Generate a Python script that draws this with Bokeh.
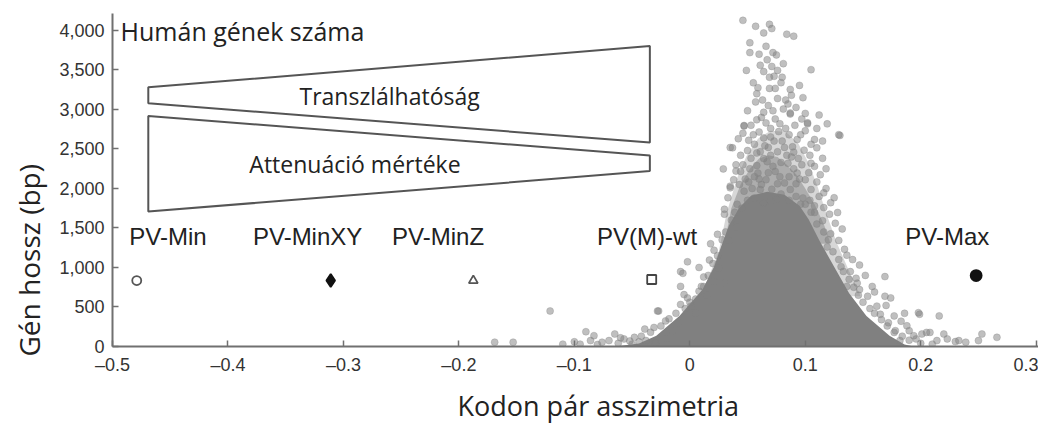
from bokeh.plotting import figure
from bokeh.models import (Range1d, FixedTicker, NumeralTickFormatter, Label,
                          ColumnDataSource, Title)
from bokeh.embed import file_html
from bokeh.resources import INLINE

# ---------------- data ----------------
x_ticks = [-0.5, -0.4, -0.3, -0.2, -0.1, 0.0, 0.1, 0.2, 0.3]
x_tick_labels = ["\u20130.5", "\u20130.4", "\u20130.3", "\u20130.2", "\u20130.1", "0", "0.1", "0.2", "0.3"]
y_ticks = [0, 500, 1000, 1500, 2000, 2500, 3000, 3500, 4000]

# dense core of the human gene cloud (solid region outline)
core_cpb = [-0.065, -0.044, -0.029, -0.009, 0.011, 0.021, 0.027, 0.034, 0.043, 0.053,
            0.067, 0.082, 0.095, 0.103, 0.112, 0.125, 0.138, 0.153, 0.173, 0.186, 0.194]
core_len = [0, 37, 137, 387, 723, 1010, 1259, 1534, 1758, 1908,
            1958, 1920, 1783, 1609, 1347, 1010, 673, 387, 137, 25, 0]

# dense-but-not-solid upper part of the cloud
upper_cpb = [0.030, 0.036, 0.044, 0.052, 0.060, 0.068, 0.076, 0.084, 0.092, 0.100,
             0.108, 0.116, 0.122]
upper_len = [1300, 1750, 2050, 2250, 2380, 2420, 2400, 2300, 2180, 2000,
             1800, 1550, 1300]

# medium-density halo of the cloud
halo_cpb = [0.0095, 0.025, 0.032, 0.041, 0.049, 0.059, 0.070, 0.083, 0.094, 0.103,
            0.111, 0.118, 0.127, 0.140, 0.148]
halo_len = [636, 1197, 1696, 2132, 2407, 2631, 2731, 2718, 2569, 2319,
            2008, 1696, 1322, 885, 636]

# individually visible genes (codon pair bias, gene length in bp)
gene_cpb = [
    0.046, 0.057, 0.069, 0.071, 0.064, 0.084, 0.090, 0.052, 0.052, 0.060, 0.072, 0.075,
    0.067, 0.071, 0.076, 0.049, 0.105, 0.069, 0.080, 0.055, 0.059, 0.069, 0.074, 0.087,
    0.095, 0.076, 0.057, 0.092, 0.050, 0.064, 0.072, 0.081, 0.087, 0.112, 0.119, 0.130,
    0.102, 0.035, 0.029, 0.047, 0.110, 0.115, 0.105, 0.040, 0.035,
    0.087, 0.047, 0.102, 0.060, 0.070, 0.129, 0.051, 0.037, 0.089, 0.099, 0.061, 0.076,
    0.053, 0.067, 0.085, 0.044, 0.059, 0.074, 0.093, 0.113, 0.038, 0.051, 0.066, 0.082,
    0.100, 0.110, 0.035, 0.047, 0.061, 0.087, 0.105, 0.116, 0.125, 0.033, 0.041, 0.070,
    0.096, 0.116, 0.122, 0.030, 0.128,
    0.056, 0.065, 0.080, 0.084, 0.094, 0.058, 0.072, 0.078, 0.090, 0.062, 0.071, 0.079,
    0.092, 0.056, 0.083, 0.066, 0.074, 0.058, 0.096, 0.108, 0.044, 0.042, 0.063, 0.083,
    0.079, 0.061, 0.066, 0.081, 0.098, 0.100,
    0.121, 0.132, 0.129, 0.136, 0.147, 0.169, 0.144, 0.136, 0.147, 0.154, 0.169, 0.174,
    0.162, 0.165, 0.177, 0.199, 0.216, 0.188, 0.201, 0.208, 0.220, 0.196, 0.214, 0.230,
    0.239, 0.250, 0.182, 0.177, 0.253, 0.266, 0.198, 0.194, 0.205, 0.223, 0.233,
    0.108, 0.115, 0.122, 0.119, 0.131, 0.139, 0.145,
    0.126, 0.134, 0.141, 0.152, 0.158, 0.160, 0.170, 0.183, 0.190, 0.172, 0.186,
    -0.002, 0.017, -0.008, 0.025, -0.008, -0.005, -0.002, -0.008, 0.001, -0.027, -0.021,
    -0.031, -0.039, -0.090, -0.065, -0.048, -0.057, -0.076, -0.086, -0.070, -0.038, 0.010,
    0.021, 0.030, -0.121, -0.169, -0.153, -0.083, -0.006, -0.028,
    0.030, 0.041, 0.034, 0.021,
    -0.095, -0.080, -0.062, -0.050, -0.044, -0.030, -0.020, -0.015, -0.010, 0.005, -0.060,
    -0.100, -0.110, 0.012, 0.018, 0.024, 0.008, 0.015,
    # left edge of the core
    0.005, 0.012, 0.016, 0.020, 0.024, 0.028, 0.031, 0.036, 0.039, -0.012, -0.018,
    -0.025, -0.034, -0.042, -0.052, 0.000, 0.008, -0.004,
    # right edge of the core
    0.110, 0.116, 0.120, 0.124, 0.129, 0.133, 0.138, 0.142, 0.146, 0.150, 0.156,
    0.160, 0.166, 0.171, 0.178, 0.184, 0.190, 0.200, 0.210, 0.105, 0.100,
    # upper band
    0.045, 0.050, 0.056, 0.064, 0.075, 0.086, 0.092, 0.098, 0.104, 0.108, 0.112, 0.118,
    0.043, 0.048, 0.054, 0.060, 0.068, 0.076, 0.086, 0.095, 0.103, 0.108, 0.118, 0.040,
    0.046, 0.052, 0.064, 0.070, 0.079, 0.088, 0.097, 0.104, 0.050, 0.058, 0.068, 0.073,
    0.082, 0.090, 0.093, 0.105, 0.115, 0.046, 0.055, 0.064, 0.077, 0.086, 0.100, 0.110,
    0.053, 0.062, 0.070, 0.078, 0.091, 0.097, 0.068, 0.085, 0.058, 0.088, 0.073, 0.064,
]
gene_len = [
    4128, 4053, 4078, 4024, 3969, 3953, 3928, 3845, 3720, 3700, 3720, 3691,
    3629, 3545, 3495, 3495, 3504, 3408, 3408, 3338, 3276, 3267, 3267, 3254,
    3305, 3139, 3096, 3026, 2984, 2964, 2984, 3005, 2943, 2930, 2818, 2672,
    2818, 2519, 2248, 2790, 2515, 2382, 2319, 2220, 2029,
    2955, 2797, 2831, 2715, 2652, 2681, 2610, 2515, 2528, 2485, 2465, 2465,
    2382, 2340, 2319, 2216, 2195, 2216, 2195, 2174, 2111, 2083, 2111, 2070,
    2111, 2083, 2008, 1966, 1987, 1987, 1987, 1945, 1883, 1883, 1800, 1842,
    1800, 1758, 1821, 1737, 1696,
    2560, 2540, 2600, 2420, 2380, 2290, 2280, 2150, 2250, 2050, 1990, 1930,
    2060, 2150, 2760, 2830, 2880, 2870, 2680, 2620, 2420, 2630, 3120, 3120,
    3340, 3560, 3800, 3580, 3150, 2950,
    1675, 1488, 1343, 1156, 1031, 885, 864, 761, 720, 636, 636, 615,
    511, 408, 387, 408, 387, 262, 158, 178, 158, 96, 75, 62,
    54, 75, 75, 178, 158, 116, 428, 137, 178, 96, 75,
    1696, 1592, 1426, 1259, 1010, 948, 802,
    1560, 1230, 1100, 900, 760, 690, 520, 320, 200, 300, 420,
    1072, 1094, 948, 989, 761, 657, 615, 532, 511, 449, 324,
    241, 220, 187, 158, 116, 96, 54, 75, 75, 75, 761,
    823, 802, 449, 54, 54, 137, 926, 449,
    1675, 1509, 1343, 1218,
    30, 25, 40, 30, 60, 40, 100, 200, 300, 420, 110,
    60, 30, 880, 1300, 1420, 1000, 650,
    600, 760, 900, 1050, 1150, 1350, 1450, 1600, 1700, 420, 350,
    260, 180, 130, 70, 560, 700, 480,
    1550, 1450, 1350, 1200, 1100, 950, 850, 750, 650, 560, 480,
    420, 340, 260, 200, 130, 80, 40, 30, 1700, 1800,
    1750, 1850, 1880, 1820, 1860, 1850, 1900, 1880, 1850, 1780, 1900, 2000,
    2050, 2120, 2000, 2120, 2200, 2060, 2150, 2120, 2200, 2280, 2250, 2300,
    2300, 2250, 2380, 2420, 2330, 2400, 2300, 2420, 2480, 2450, 2520, 2600,
    2520, 2460, 2620, 2560, 2600, 2700, 2680, 2640, 2720, 2680, 2730, 2760,
    2800, 2900, 2760, 2820, 2800, 2880, 3050, 3070, 3200, 3180, 3420, 3480,
]

# poliovirus constructs
specimen_names = ["PV-Min", "PV-MinXY", "PV-MinZ", "PV(M)-wt", "PV-Max"]
specimen_cpb = [-0.479, -0.311, -0.1875, -0.033, 0.248]
specimen_len = [835, 835, 835, 848, 898]

# schematic wedges (annotation shapes)
transl_x = [-0.469, -0.0346, -0.0346, -0.469]
transl_y = [3280, 3803, 2581, 3080]
atten_x = [-0.469, -0.0346, -0.0346, -0.469]
atten_y = [2918, 2419, 2220, 1708]

# ---------------- figure ----------------
p = figure(width=1038, height=432, output_backend="svg", toolbar_location=None,
           x_range=Range1d(-0.5, 0.302), y_range=Range1d(0, 4215),
           min_border_left=112, min_border_right=0, min_border_top=13,
           min_border_bottom=81)
p.grid.visible = False
p.outline_line_color = None
p.background_fill_color = "white"
p.border_fill_color = "white"

AX = "#707070"
for ax in (p.xaxis[0], p.yaxis[0]):
    ax.axis_line_color = AX
    ax.axis_line_width = 2
    ax.major_tick_line_color = AX
    ax.major_tick_line_width = 1.5
    ax.major_tick_in = 6
    ax.major_tick_out = 0
    ax.minor_tick_line_color = None
    ax.major_label_text_font = "Liberation Sans"
    ax.major_label_text_font_size = "18px"
    ax.major_label_text_color = "#333333"
    ax.major_label_standoff = 8

p.xaxis.ticker = FixedTicker(ticks=x_ticks)
p.xaxis.major_label_overrides = {t: l for t, l in zip(x_ticks, x_tick_labels)}
p.yaxis.ticker = FixedTicker(ticks=y_ticks)
p.yaxis.formatter = NumeralTickFormatter(format="0,0")

# cloud
p.patch(halo_cpb, halo_len, fill_color="#9a9a9a", fill_alpha=0.4, line_color=None)
p.patch(upper_cpb, upper_len, fill_color="#8a8a8a", fill_alpha=0.55, line_color=None)
p.patch(core_cpb, core_len, fill_color="#808080", line_color=None)
p.scatter(gene_cpb, gene_len, size=7, fill_color="#808080", fill_alpha=0.5,
          line_color="#808080", line_alpha=0.3)

# constructs
src = ColumnDataSource(dict(
    x=specimen_cpb, y=specimen_len,
    marker=["circle", "diamond", "triangle", "square", "circle"],
    fill=["white", "#111111", "white", "white", "#111111"],
    line=["#555555", "#111111", "#555555", "#444444", "#111111"],
    size=[9, 13, 9, 9, 11],
))
p.scatter("x", "y", marker="marker", size="size", fill_color="fill",
          line_color="line", line_width=1.8, source=src)

# wedges
p.patch(transl_x, transl_y, fill_color="white", line_color="#555555", line_width=2)
p.patch(atten_x, atten_y, fill_color="white", line_color="#555555", line_width=2)

# texts
label_x = [-0.452, -0.331, -0.218, -0.037, 0.223]
for name, lx in zip(specimen_names, label_x):
    p.add_layout(Label(x=lx, y=1397, text=name, text_align="center",
                       text_baseline="alphabetic", text_font="Liberation Sans",
                       text_font_size="24px", text_color="#222222"))

p.add_layout(Label(x=-0.493, y=3995, text="Humán gének száma", text_align="left",
                   text_baseline="alphabetic", text_font="Open Sans",
                   text_font_size="25px", text_color="#222222"))
p.add_layout(Label(x=-0.260, y=3167, text="Transzlálhatóság", text_align="center",
                   text_baseline="alphabetic", text_font="Open Sans",
                   text_font_size="23px", text_color="#222222"))
p.add_layout(Label(x=-0.290, y=2306, text="Attenuáció mértéke", text_align="center",
                   text_baseline="alphabetic", text_font="Open Sans",
                   text_font_size="23px", text_color="#222222"))

p.add_layout(Title(text="Kodon pár asszimetria", align="left", offset=345,
                   vertical_align="middle", standoff=16, text_font="Open Sans",
                   text_font_size="27px", text_font_style="normal",
                   text_color="#222222"), "below")
p.add_layout(Title(text="Gén hossz (bp)", align="left", offset=-10,
                   vertical_align="middle", standoff=15, text_font="Open Sans",
                   text_font_size="28px", text_font_style="normal",
                   text_color="#222222"), "left")

open("out.html", "w").write(file_html(p, INLINE))
